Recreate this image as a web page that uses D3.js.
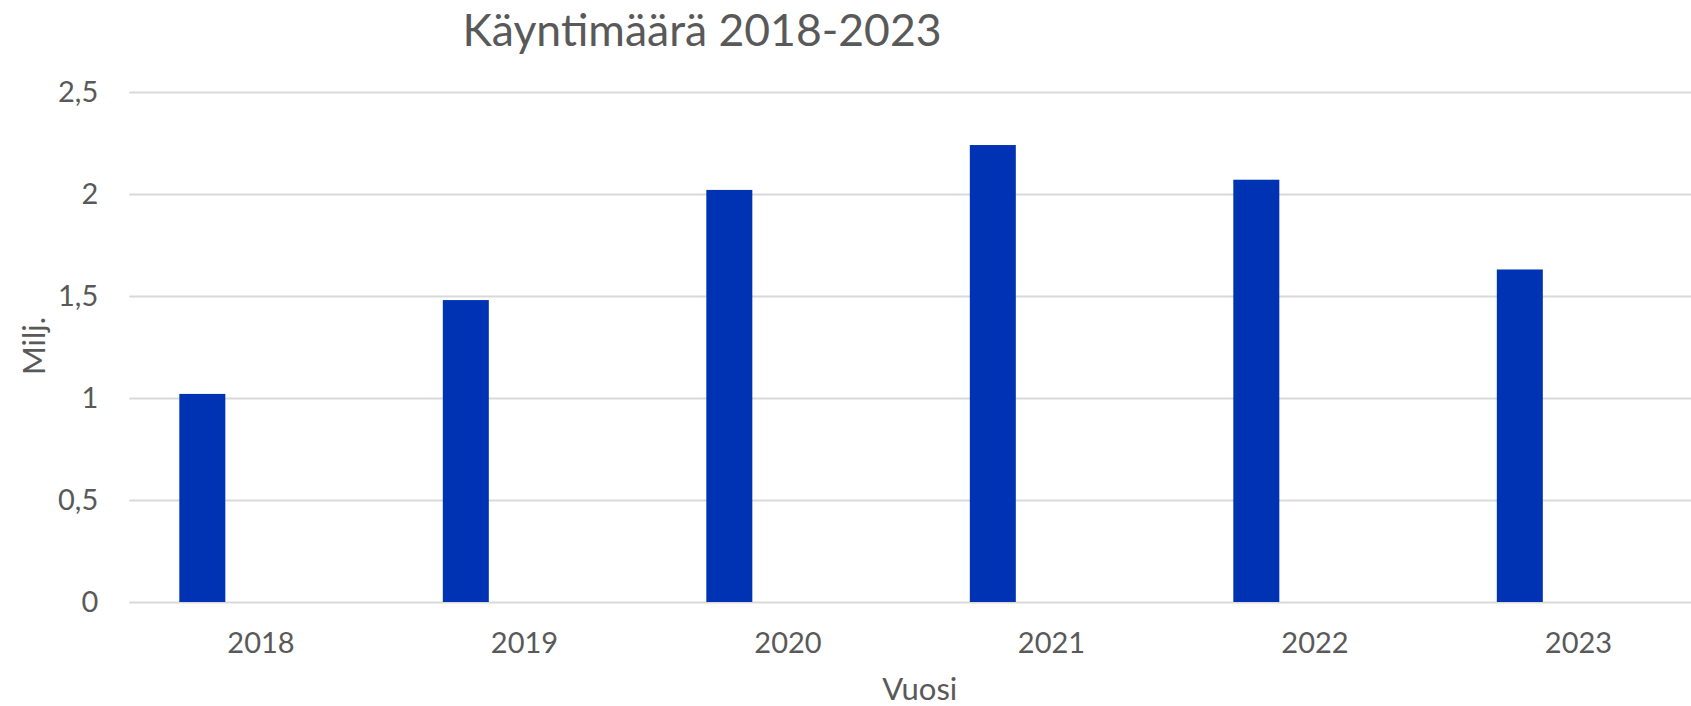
<!DOCTYPE html>
<html>
<head>
<meta charset="utf-8">
<script src="https://cdn.jsdelivr.net/npm/d3@7"></script>
<style>
  html, body { margin: 0; padding: 0; background: #fff; }
  svg { display: block; font-family: Lato, "Open Sans", sans-serif; }
</style>
</head>
<body>
<svg id="chart" width="1691" height="706"></svg>
<script>
const years = ["2018", "2019", "2020", "2021", "2022", "2023"];
const visits = [1.02, 1.48, 2.02, 2.24, 2.07, 1.63];
const yTicks = [0, 0.5, 1, 1.5, 2, 2.5];
const titleText = "Käyntimäärä 2018-2023";
const xTitle = "Vuosi";
const yTitle = "Milj.";

const svg = d3.select("#chart");
const plotLeft = 129.25, plotRight = 1710.25, plotTop = 92, plotBottom = 602;
const textColor = "#595959";
const fontFam = "Lato, 'Open Sans', sans-serif";

const x = d3.scaleBand().domain(years).range([plotLeft, plotRight]).paddingInner(0).paddingOuter(0);
const y = d3.scaleLinear().domain([0, 2.5]).range([plotBottom, plotTop]);

// gridlines + y labels
const yAxis = d3.axisLeft(y)
  .tickValues(yTicks)
  .tickSize(-(plotRight - plotLeft))
  .tickPadding(31)
  .tickFormat(d => String(d).replace(".", ","));
const gy = svg.append("g").attr("transform", `translate(${plotLeft},0)`).call(yAxis)
  .attr("font-family", fontFam).attr("font-size", 29);
gy.select(".domain").remove();
gy.selectAll(".tick line").attr("stroke", "#d9d9d9").attr("stroke-width", 2);
gy.selectAll(".tick text").attr("fill", textColor);

// bars
const barOffset = 0.19, barWidth = 0.1746;
svg.append("g").selectAll("rect")
  .data(years.map((yr, i) => ({ yr, v: visits[i] })))
  .join("rect")
  .attr("x", d => x(d.yr) + x.bandwidth() * barOffset)
  .attr("width", x.bandwidth() * barWidth)
  .attr("y", d => y(d.v))
  .attr("height", d => y(0) - y(d.v))
  .attr("fill", "#0033b4");

// x axis labels
const xAxis = d3.axisBottom(x).tickSize(0).tickPadding(0);
const gx = svg.append("g").attr("transform", `translate(0,${plotBottom})`).call(xAxis)
  .attr("font-family", fontFam).attr("font-size", 29);
gx.select(".domain").remove();
gx.selectAll(".tick text")
  .attr("dy", null)
  .attr("y", 51)
  .attr("fill", textColor);

// title
svg.append("text")
  .attr("x", 702).attr("y", 46)
  .attr("text-anchor", "middle")
  .attr("fill", textColor)
  .style("font-size", "44.5px")
  .text(titleText);

// axis titles
svg.append("text")
  .attr("x", (plotLeft + plotRight) / 2).attr("y", 700)
  .attr("text-anchor", "middle")
  .attr("fill", textColor)
  .style("font-size", "31px")
  .text(xTitle);

svg.append("text")
  .attr("transform", "translate(45,346) rotate(-90)")
  .attr("text-anchor", "middle")
  .attr("fill", textColor)
  .style("font-size", "31px")
  .text(yTitle);
</script>
</body>
</html>
